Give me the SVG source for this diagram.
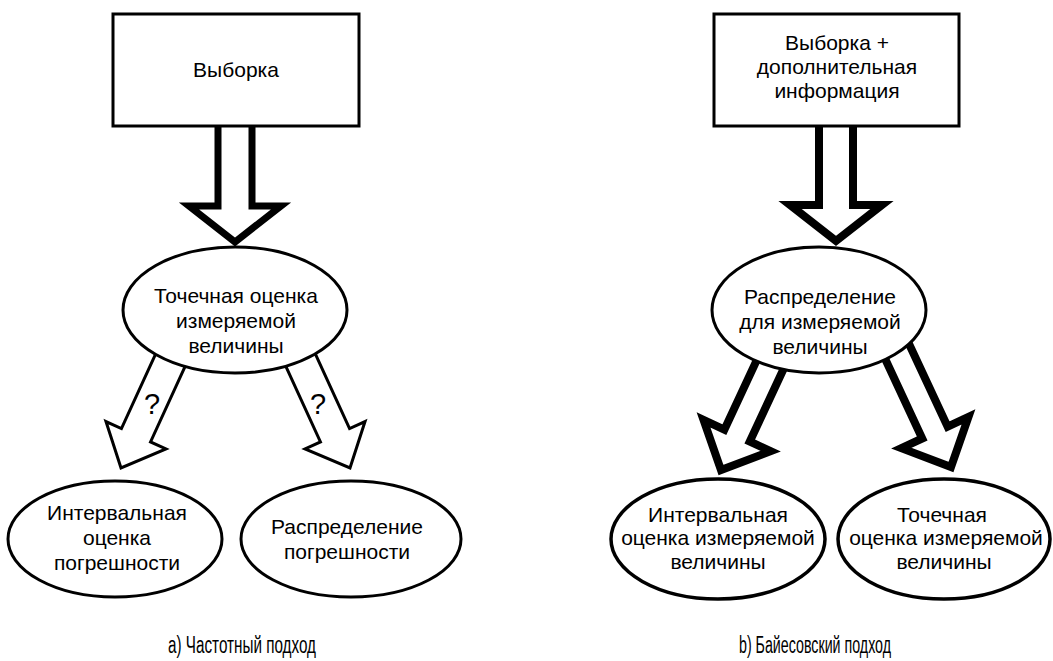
<svg xmlns="http://www.w3.org/2000/svg" xmlns:xlink="http://www.w3.org/1999/xlink" width="1053" height="661" viewBox="0 0 1053 661">
<style>
.shape{fill:#fff;stroke:#000;stroke-width:3}
.big{fill:#fff;stroke:#000;stroke-width:7;stroke-linejoin:miter;stroke-miterlimit:10}
.thin{fill:#fff;stroke:#000;stroke-width:3;stroke-linejoin:miter;stroke-miterlimit:10}
.thick{fill:#fff;stroke:#000;stroke-width:8;stroke-linejoin:miter;stroke-miterlimit:10}
text{font-family:"Liberation Sans",Arial,"Noto Sans",sans-serif;font-size:21px;fill:#000;text-anchor:middle}
.q{font-size:29px}
.cap{font-size:23px}
</style>
<defs>
<path id="bigArrow" d="M-17,-130 L-17,-36 L-46,-36 L0,0 L46,-36 L17,-36 L17,-130"/>
<path id="thinArrow" d="M-16,-140 L-16,-36 L-33,-36 L0,0 L33,-36 L16,-36 L16,-140"/>
<path id="thickArrow" d="M-14,-140 L-14,-38 L-37,-38 L0,0 L37,-38 L14,-38 L14,-140"/>
</defs>
<rect width="1053" height="661" fill="#fff"/>
<g id="connectors">
<use xlink:href="#bigArrow" class="big" transform="translate(235,242)"/>
<use xlink:href="#thinArrow" class="thin" transform="translate(121,468) rotate(24.6)"/>
<use xlink:href="#thinArrow" class="thin" transform="translate(350,468) rotate(-24.6)"/>
<text class="q" x="152" y="414">?</text>
<text class="q" x="318" y="414">?</text>
<use xlink:href="#bigArrow" class="thick" transform="translate(836,241)"/>
<use xlink:href="#thickArrow" class="thick" transform="translate(721,470) rotate(25)"/>
<use xlink:href="#thickArrow" class="thick" transform="translate(951,467) rotate(-25)"/>
</g>
<g id="node-sample">
<rect class="shape" x="113" y="14" width="246" height="112"/>
<text x="236" y="77">Выборка</text>
</g>
<g id="node-point-estimate">
<ellipse class="shape" cx="235" cy="310" rx="112" ry="63"/>
<text x="236" y="303">Точечная оценка</text>
<text x="236" y="328">измеряемой</text>
<text x="236" y="353">величины</text>
</g>
<g id="node-interval-error">
<ellipse class="shape" cx="115" cy="539" rx="107" ry="58"/>
<text x="117" y="520">Интервальная</text>
<text x="117" y="545">оценка</text>
<text x="117" y="570">погрешности</text>
</g>
<g id="node-error-distribution">
<ellipse class="shape" cx="351" cy="539" rx="110" ry="58"/>
<text x="347" y="534">Распределение</text>
<text x="347" y="559">погрешности</text>
</g>
<g id="node-sample-plus">
<rect class="shape" x="714" y="14" width="245" height="112"/>
<text x="837" y="50">Выборка +</text>
<text x="837" y="74">дополнительная</text>
<text x="837" y="98">информация</text>
</g>
<g id="node-distribution">
<ellipse class="shape" cx="819" cy="310" rx="107" ry="63"/>
<text x="820" y="304">Распределение</text>
<text x="820" y="329">для измеряемой</text>
<text x="820" y="354">величины</text>
</g>
<g id="node-interval-measurand">
<ellipse class="shape" cx="718" cy="539" rx="107" ry="60" style="stroke-width:3.5"/>
<text x="718" y="522">Интервальная</text>
<text x="718" y="545">оценка измеряемой</text>
<text x="718" y="569">величины</text>
</g>
<g id="node-point-measurand">
<ellipse class="shape" cx="944" cy="539" rx="106" ry="60" style="stroke-width:3.5"/>
<text x="942" y="522">Точечная</text>
<text x="946" y="545">оценка измеряемой</text>
<text x="944" y="569">величины</text>
</g>
<g id="captions">
<text class="cap" x="242" y="653" textLength="148" lengthAdjust="spacingAndGlyphs">а) Частотный подход</text>
<text class="cap" x="815" y="653" textLength="152" lengthAdjust="spacingAndGlyphs">b) Байесовский подход</text>
</g>
</svg>
